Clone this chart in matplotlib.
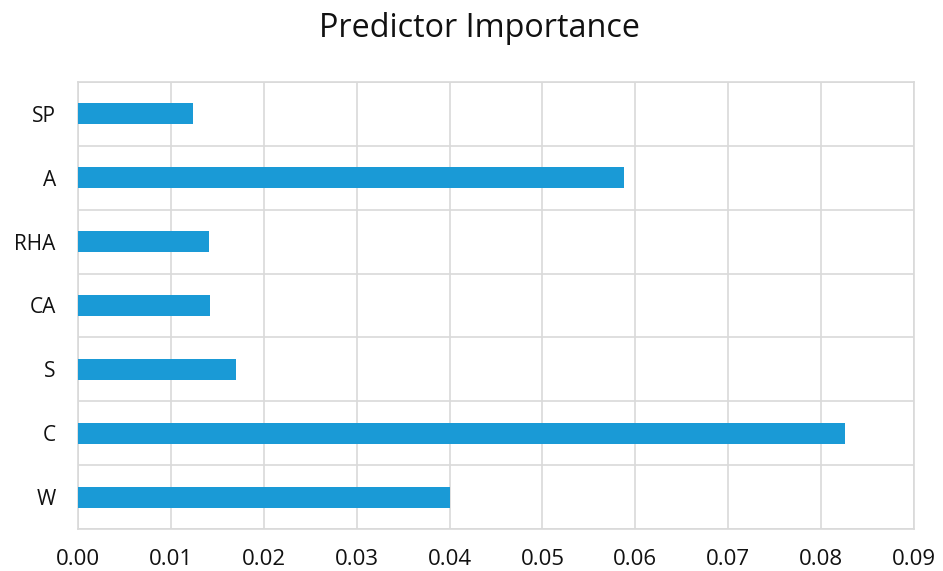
import matplotlib.pyplot as plt
import numpy as np

# predictors listed bottom to top
predictors = ['W', 'C', 'S', 'CA', 'RHA', 'A', 'SP']
importance = [0.0400, 0.0826, 0.0170, 0.0142, 0.0141, 0.0588, 0.0124]
xticks = [0.00, 0.01, 0.02, 0.03, 0.04, 0.05, 0.06, 0.07, 0.08, 0.09]

plt.rcParams['font.family'] = ['Open Sans', 'DejaVu Sans']

fig = plt.figure(figsize=(9.43, 5.71), dpi=100)
ax = fig.add_axes([0.0827, 0.0736, 0.8865, 0.7828])

y = np.arange(len(predictors))
ax.barh(y, importance, height=0.33, color='#1a9ad6', zorder=3)

ax.set_xlim(0, 0.09)
ax.set_ylim(-0.5, len(predictors) - 0.5)
ax.set_xticks(xticks)
ax.set_xticklabels([f'{t:.2f}' for t in xticks])
ax.set_yticks(y)
ax.set_yticklabels(predictors)

# gridlines between categories and at each x tick
ax.set_yticks(np.arange(-0.5, len(predictors)), minor=True)
ax.grid(axis='x', which='major', color='#d9d9d9', linewidth=1.2, zorder=0)
ax.grid(axis='y', which='minor', color='#d9d9d9', linewidth=1.2, zorder=0)
ax.tick_params(axis='both', which='both', length=0, colors='#111111')
ax.tick_params(axis='x', pad=14.5, labelsize=16)
ax.tick_params(axis='y', pad=16, labelsize=15)
for spine in ax.spines.values():
  spine.set_color('#d9d9d9')
  spine.set_linewidth(1.2)

fig.text(0.509, 0.935, 'Predictor Importance', fontsize=23.3, ha='center', va='baseline', color='#111111')

fig.savefig('out.png', dpi=100)
